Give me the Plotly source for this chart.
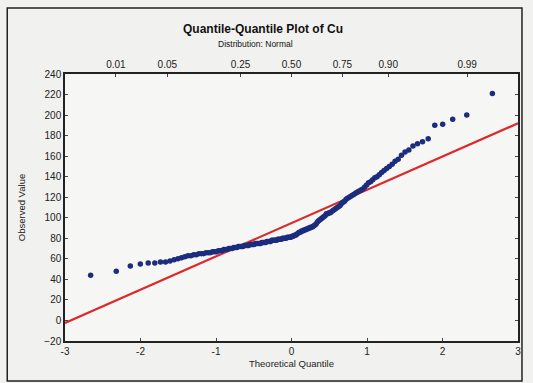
import plotly.graph_objects as go
from statistics import NormalDist

observed = [
    44, 48, 53, 55, 56, 56, 57, 57, 58, 59,
    60, 61, 62, 63, 63, 64, 64, 65, 65, 65,
    66, 66, 66, 67, 67, 67, 68, 68, 68, 69,
    69, 69, 70, 70, 70, 71, 71, 71, 72, 72,
    72, 72, 73, 73, 73, 73, 74, 74, 74, 74,
    75, 75, 75, 75, 75, 76, 76, 76, 76, 77,
    77, 77, 77, 78, 78, 78, 78, 78, 79, 79,
    79, 79, 80, 80, 80, 80, 81, 81, 81, 81,
    82, 82, 83, 83, 84, 85, 86, 86, 87, 87,
    88, 88, 89, 89, 90, 90, 91, 91, 92, 93,
    94, 96, 97, 98, 99, 100, 101, 102, 104, 104,
    105, 105, 106, 107, 108, 109, 110, 111, 112, 114,
    115, 116, 118, 119, 120, 121, 122, 123, 124, 125,
    126, 127, 128, 130, 132, 134, 135, 137, 139, 140,
    142, 144, 146, 148, 150, 152, 155, 157, 161, 164,
    166, 170, 172, 174, 177, 190, 191, 196, 200, 221,
]
# Reference line parameters
line_intercept = 94.8
line_slope = 32.4

x_ticks = [-3, -2, -1, 0, 1, 2, 3]
y_ticks = list(range(-20, 241, 20))
prob_ticks = [0.01, 0.05, 0.25, 0.50, 0.75, 0.90, 0.99]
prob_labels = ["0.01", "0.05", "0.25", "0.50", "0.75", "0.90", "0.99"]

nd = NormalDist()
n = len(observed)
theoretical = [nd.inv_cdf((i + 1 - 0.375) / (n + 0.25)) for i in range(n)]
line_x = [-3, 3]
line_y = [line_intercept + line_slope * v for v in line_x]

FONT = "Liberation Sans Narrow, Liberation Sans, Arial, sans-serif"
FONT_W = "Liberation Sans, Arial, sans-serif"

fig = go.Figure()
fig.add_trace(go.Scatter(x=line_x, y=line_y, mode="lines",
                         line=dict(color="#dc2a2a", width=2.2), showlegend=False,
                         hoverinfo="skip"))
fig.add_trace(go.Scatter(x=theoretical, y=observed, mode="markers",
                         marker=dict(color="#1c2c7e", size=5.5), showlegend=False))
fig.add_trace(go.Scatter(x=[0], y=[100], xaxis="x2", mode="markers",
                         marker=dict(opacity=0), showlegend=False, hoverinfo="skip"))

fig.update_layout(
    width=533, height=383,
    margin=dict(l=65, r=13, t=74, b=42),
    paper_bgcolor="#f1f1ef",
    plot_bgcolor="#f6f6f4",
    font=dict(family=FONT, size=10, color="#222"),
    xaxis=dict(range=[-3, 3], tickvals=x_ticks, ticktext=[str(v) for v in x_ticks],
               showgrid=False, zeroline=False, ticks="inside", ticklen=3,
               showline=True, linecolor="#222", linewidth=1.5, mirror=False,
               title=dict(text="Theoretical Quantile", font=dict(size=9.5), standoff=5)),
    xaxis2=dict(range=[-3, 3], overlaying="x", side="top",
                tickvals=[nd.inv_cdf(p) for p in prob_ticks], ticktext=prob_labels,
                showgrid=False, zeroline=False, ticks="inside", ticklen=3,
                showline=True, linecolor="#222", linewidth=1.5),
    yaxis=dict(range=[-20, 240], tickvals=y_ticks, showgrid=False, zeroline=False,
               ticks="inside", ticklen=3, showline=True, linecolor="#222",
               linewidth=1.5, mirror="ticks",
               title=dict(text="Observed Value", font=dict(size=9.5), standoff=17)),
    annotations=[
        dict(text="<b>Quantile-Quantile Plot of Cu</b>", xref="paper", yref="paper",
             x=0.437, y=1.169, xanchor="center", yanchor="middle", showarrow=False,
             font=dict(size=12, color="#111", family=FONT_W)),
        dict(text="Distribution: Normal", xref="paper", yref="paper",
             x=0.42, y=1.112, xanchor="center", yanchor="middle", showarrow=False,
             font=dict(size=8.5, color="#111")),
    ],
    shapes=[
        dict(type="rect", xref="paper", yref="paper",
             x0=-0.1275, x1=1.0088, y0=-0.15, y1=1.247,
             line=dict(color="#222", width=1.5), fillcolor="rgba(0,0,0,0)", layer="below"),
    ],
)

fig.write_html("out.html")
